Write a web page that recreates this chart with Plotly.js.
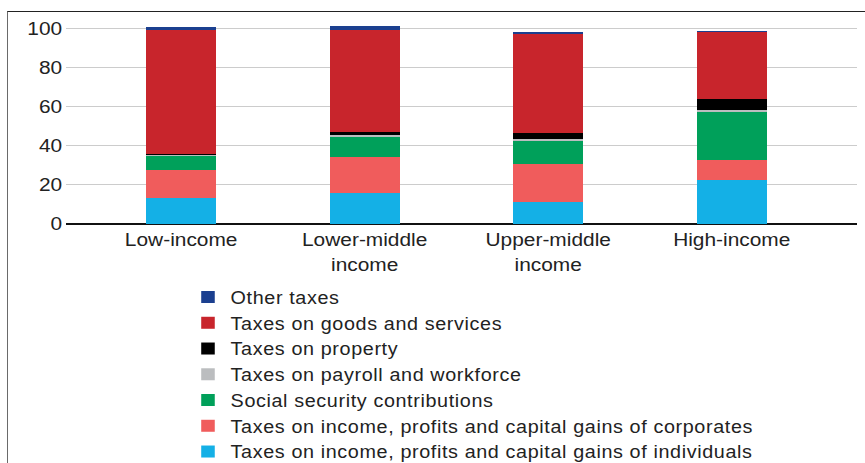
<!DOCTYPE html>
<html>
<head>
<meta charset="utf-8">
<script src="https://cdn.plot.ly/plotly-3.0.1.min.js"></script>
<style>
  html, body { margin: 0; padding: 0; background: #fff; }
  #wrap { position: relative; width: 865px; height: 463px; overflow: hidden; }
  #chart { position: absolute; left: 0; top: 0; width: 765.5px; height: 463px;
           transform: scaleX(1.13); transform-origin: 0 0; }
  #chart .legendtext { letter-spacing: 0.55px; }
  #chart g.legend g.scrollbox, #chart g.legend { clip-path: none !important; }
  #frame { position: absolute; left: 7px; top: 11px; width: 870px; height: 470px;
           border-left: 1.5px solid #6a6a6a; border-top: 1.5px solid #222; pointer-events: none; }
</style>
</head>
<body>
<div id="wrap">
  <div id="chart"></div>
  <div id="frame"></div>
</div>
<script>
const categories = ["Low-income", "Lower-middle<br>income", "Upper-middle<br>income", "High-income"];

const individuals = [13.5, 15.9, 11.1, 22.4];
const corporates  = [14.3, 18.3, 19.6, 10.2];
const socialSec   = [7.3, 10.4, 11.9, 24.7];
const payroll     = [0.5, 1.0, 0.9, 1.2];
const property    = [0.4, 1.5, 2.9, 5.5];
const goods       = [63.3, 52.4, 51.0, 34.3];
const other       = [1.5, 1.9, 1.2, 0.8];

const seriesNames = [
  "Taxes on income, profits and capital gains of individuals",
  "Taxes on income, profits and capital gains of corporates",
  "Social security contributions",
  "Taxes on payroll and workforce",
  "Taxes on property",
  "Taxes on goods and services",
  "Other taxes"
];
const seriesValues = [individuals, corporates, socialSec, payroll, property, goods, other];
const colors = ["#14B0E6", "#F05C5C", "#00A05A", "#BBBDBF", "#000000", "#C8252C", "#1B3F8F"];

const traces = seriesValues.map((vals, i) => ({
  type: "bar",
  x: categories,
  y: vals,
  name: seriesNames[i],
  marker: { color: colors[i], line: { width: 0 } },
  hoverinfo: "name+y"
}));

const S = 1.13;
const W = 865 / S;

const layout = {
  width: W,
  height: 463,
  barmode: "stack",
  bargap: 0.62,
  paper_bgcolor: "#ffffff",
  plot_bgcolor: "#ffffff",
  font: { family: "Liberation Sans, Arial, Helvetica, sans-serif", size: 18.5, color: "#222" },
  margin: { l: 65 / S, r: W - 857 / S, t: 25.1, b: 238.7, pad: 0, autoexpand: false },
  xaxis: {
    type: "category",
    range: [-0.63, 3.68],
    showgrid: false,
    showline: false,
    zeroline: false,
    ticks: "",
    ticklabelstandoff: 3,
    tickfont: { size: 18.5, color: "#222" },
    automargin: false
  },
  yaxis: {
    range: [0, 102],
    tickvals: [0, 20, 40, 60, 80, 100],
    showgrid: true,
    gridcolor: "#cccccc",
    gridwidth: 1,
    zeroline: true,
    zerolinecolor: "#111",
    zerolinewidth: 1.5,
    showline: false,
    ticks: "",
    ticklabelstandoff: 2,
    tickfont: { size: 18.5, color: "#222" },
    automargin: false
  },
  showlegend: true,
  legend: {
    traceorder: "reversed",
    x: (185 / S - 65 / S) / (857 / S - 65 / S),
    xanchor: "left",
    y: (224.3 - 279.5) / 199.2,
    yanchor: "top",
    font: { size: 17.5, color: "#222" },
    bgcolor: "rgba(0,0,0,0)",
    tracegroupgap: 0
  }
};

Plotly.newPlot("chart", traces, layout, { displayModeBar: false, staticPlot: true });
</script>
</body>
</html>
